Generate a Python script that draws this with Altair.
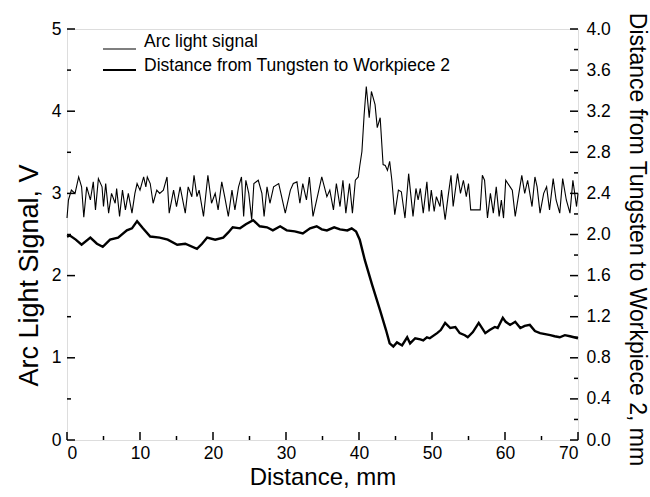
import altair as alt
import pandas as pd

# ---- data ----
arc_x = [0.0, 0.2, 0.6, 1.1, 1.6, 2.0, 2.3, 2.7, 3.2, 3.6,
         3.9, 4.3, 4.8, 5.0, 5.3, 5.7, 6.1, 6.6, 6.8, 7.2,
         7.6, 8.0, 8.4, 8.9, 9.3, 9.6, 10.0, 10.5, 10.8, 11.0,
         11.4, 11.8, 12.3, 12.7, 13.2, 13.7, 14.0, 14.6, 15.0, 15.5,
         16.2, 16.6, 17.1, 17.4, 17.8, 18.1, 18.7, 19.3, 19.8, 20.3,
         20.7, 21.2, 21.6, 22.1, 22.6, 23.0, 23.5, 23.9, 24.2, 24.5,
         24.9, 25.3, 25.6, 26.2, 26.7, 27.0, 27.4, 27.8, 28.3, 29.0,
         29.4, 29.9, 30.6, 31.0, 31.5, 31.9, 32.3, 32.8, 33.2, 33.7,
         34.4, 34.9, 35.6, 36.0, 36.5, 36.9, 37.4, 37.8, 38.2, 38.7,
         39.1, 39.5, 39.9, 40.1, 40.4, 40.7, 41.0, 41.4, 41.7, 42.2,
         42.5, 42.9, 43.3, 43.6, 43.9, 44.2, 44.5, 44.9, 45.4, 45.8,
         46.3, 46.8, 47.4, 47.8, 48.1, 48.4, 48.8, 49.3, 49.6, 49.9,
         50.3, 50.6, 51.1, 51.3, 51.8, 52.2, 52.6, 52.9, 53.5, 53.9,
         54.3, 54.7, 55.0, 55.3, 55.9, 56.6, 56.9, 57.2, 57.6, 58.0,
         58.4, 58.8, 59.2, 59.5, 59.8, 60.1, 60.7, 61.0, 61.4, 61.9,
         62.3, 62.7, 63.1, 63.7, 64.1, 64.4, 64.8, 65.3, 65.7, 66.1,
         66.6, 67.0, 67.5, 67.9, 68.4, 68.9, 69.3, 69.8, 70.0]
arc_v = [2.70, 2.92, 3.04, 3.00, 3.20, 3.08, 2.71, 3.08, 2.92, 3.14,
         2.80, 3.18, 3.08, 2.84, 3.12, 2.76, 3.00, 2.88, 3.06, 2.72,
         3.04, 2.80, 3.00, 2.76, 3.00, 3.12, 3.04, 3.20, 3.08, 3.20,
         3.12, 2.88, 3.04, 3.00, 3.04, 3.20, 2.76, 3.04, 2.84, 3.08,
         2.76, 3.08, 2.96, 3.22, 2.96, 3.04, 2.72, 3.22, 2.88, 3.00,
         2.80, 3.14, 2.96, 2.72, 3.04, 2.80, 3.08, 3.20, 2.72, 3.16,
         3.00, 2.68, 3.12, 3.16, 3.00, 2.72, 3.08, 2.88, 3.08, 3.12,
         2.96, 2.76, 3.04, 3.12, 3.14, 2.88, 3.12, 2.92, 3.20, 2.72,
         3.00, 3.20, 2.96, 3.04, 2.80, 3.12, 2.84, 3.16, 2.76, 3.12,
         2.76, 3.16, 3.20, 3.33, 3.51, 3.95, 4.30, 3.92, 4.24, 4.08,
         3.80, 3.92, 3.35, 3.34, 3.28, 3.39, 3.16, 2.74, 3.04, 3.02,
         2.70, 3.24, 2.72, 3.06, 2.92, 3.06, 2.76, 3.14, 2.78, 3.04,
         2.78, 2.96, 2.84, 3.04, 2.68, 2.96, 3.22, 2.84, 3.24, 3.00,
         3.16, 2.96, 3.12, 2.80, 2.80, 2.80, 3.22, 3.16, 2.70, 3.00,
         2.76, 3.08, 2.72, 2.92, 2.70, 3.16, 3.08, 3.04, 2.72, 3.00,
         3.22, 3.00, 3.16, 2.84, 3.20, 3.08, 2.76, 3.00, 3.08, 2.80,
         3.18, 2.92, 2.76, 3.18, 2.92, 2.76, 3.16, 2.84, 3.00]

dist_x = [0.0, 0.4, 1.2, 2.0, 3.2, 4.1, 4.9, 5.9, 7.0, 8.2,
          8.9, 9.6, 10.4, 11.4, 12.7, 13.8, 15.1, 16.2, 17.8, 18.5,
          19.2, 20.3, 21.4, 22.1, 22.7, 23.7, 24.5, 25.5, 26.4, 27.4,
          28.2, 29.2, 30.1, 31.2, 32.3, 33.3, 34.2, 34.9, 35.6, 36.6,
          37.4, 38.4, 39.0, 39.6, 40.1, 40.8, 41.8, 42.9, 43.7, 44.2,
          44.7, 45.2, 45.9, 46.6, 47.0, 47.7, 48.4, 48.8, 49.3, 49.7,
          50.7, 51.2, 51.8, 52.5, 53.2, 53.8, 54.5, 54.9, 55.6, 56.4,
          57.3, 57.9, 58.6, 59.0, 59.7, 60.1, 60.7, 61.4, 62.1, 62.7,
          63.4, 64.1, 64.8, 65.5, 66.2, 66.8, 67.5, 68.2, 68.9, 70.0]
dist_mm = [1.98, 1.99, 1.95, 1.90, 1.97, 1.91, 1.88, 1.95, 1.97, 2.04,
           2.06, 2.13, 2.06, 1.98, 1.97, 1.95, 1.90, 1.91, 1.86, 1.91,
           1.97, 1.95, 1.97, 2.02, 2.07, 2.06, 2.10, 2.14, 2.08, 2.07,
           2.04, 2.08, 2.04, 2.03, 2.01, 2.06, 2.08, 2.05, 2.04, 2.07,
           2.05, 2.04, 2.06, 2.03, 1.95, 1.75, 1.51, 1.26, 1.07, 0.94,
           0.91, 0.95, 0.92, 1.00, 0.94, 0.99, 0.98, 0.97, 1.00, 0.99,
           1.04, 1.07, 1.14, 1.09, 1.10, 1.04, 1.02, 1.00, 1.05, 1.14,
           1.04, 1.07, 1.10, 1.09, 1.19, 1.15, 1.12, 1.15, 1.09, 1.11,
           1.12, 1.06, 1.04, 1.03, 1.02, 1.01, 1.00, 1.02, 1.01, 0.99]

x_major = [0, 10, 20, 30, 40, 50, 60, 70]
x_minor = [5, 15, 25, 35, 45, 55, 65]
left_major = [0, 1, 2, 3, 4, 5]
left_minor = [0.5, 1.5, 2.5, 3.5, 4.5]
right_major = [0.0, 0.4, 0.8, 1.2, 1.6, 2.0, 2.4, 2.8, 3.2, 3.6, 4.0]
right_minor = [0.2, 0.6, 1.0, 1.4, 1.8, 2.2, 2.6, 3.0, 3.4, 3.8]
legend_labels = ["Arc light signal", "Distance from Tungsten to Workpiece 2"]

# ---- layout ----
W, H = 511, 411
FONT = "Liberation Sans"
MAJ, MIN = 8, 4
LBL = 17.5

xs = alt.Scale(domain=[0, 70], nice=False, zero=False)
ysl = alt.Scale(domain=[0, 5], nice=False)
ysr = alt.Scale(domain=[0, 4], nice=False)

x_axis = alt.Axis(values=x_major, format="d", title="Distance, mm",
                  ticks=False, domain=False, grid=False,
                  labelFontSize=LBL, labelPadding=4, labelColor="black",
                  titleFontSize=24, titleFontWeight="normal",
                  titleX=W / 2, titleY=44, titleBaseline="alphabetic",
                  titleAlign="center", titleColor="black")

arc = alt.Chart(pd.DataFrame({"x": arc_x, "v": arc_v})).mark_line(
    color="black", strokeWidth=1.1).encode(
    x=alt.X("x:Q", scale=xs, axis=x_axis),
    y=alt.Y("v:Q", scale=ysl, axis=alt.Axis(
        orient="left", values=left_major, format="d",
        title="Arc Light Signal, V", ticks=False, domain=False, grid=False,
        labelFontSize=LBL, labelPadding=6, labelColor="black",
        titleFontSize=27, titleFontWeight="normal",
        titleAngle=270, titleX=-24, titleY=246, titleBaseline="bottom",
        titleAlign="center", titleColor="black")),
)

dist = alt.Chart(pd.DataFrame({"x": dist_x, "d": dist_mm})).mark_line(
    color="black", strokeWidth=2.4).encode(
    x=alt.X("x:Q", scale=xs, axis=x_axis),
    y=alt.Y("d:Q", scale=ysr, axis=alt.Axis(
        orient="right", values=right_major, format=".1f",
        title="Distance from Tungsten to Workpiece 2, mm", ticks=False,
        domain=False, grid=False, labelFontSize=LBL, labelPadding=8,
        labelColor="black", titleFontSize=23, titleFontWeight="normal",
        titleAngle=90, titleX=46, titleY=210, titleBaseline="bottom",
        titleAlign="center", titleColor="black")),
)

def vticks(vals, scale, x0, x1):
    return alt.Chart(pd.DataFrame({"t": vals})).mark_rule(
        color="black", strokeWidth=1.5).encode(
        y=alt.Y("t:Q", scale=scale, axis=None),
        x=alt.value(x0), x2=alt.value(x1))

def hticks(vals, size):
    return alt.Chart(pd.DataFrame({"x": vals})).mark_rule(
        color="black", strokeWidth=1.5).encode(
        x=alt.X("x:Q", scale=xs, axis=x_axis),
        y=alt.value(H), y2=alt.value(H - size))

tl_maj = vticks(left_major, ysl, 0, MAJ)
tl_min = vticks(left_minor, ysl, 0, MIN)
tr_maj = vticks(right_major, ysr, W, W - MAJ)
tr_min = vticks(right_minor, ysr, W, W - MIN)
tb_maj = hticks(x_major, MAJ)
tb_min = hticks(x_minor, MIN)

leg1_line = alt.Chart(pd.DataFrame({"l": [legend_labels[0]]})).mark_rule(
    color="black", strokeWidth=1.1).encode(
    x=alt.value(36), x2=alt.value(69), y=alt.value(20))
leg2_line = alt.Chart(pd.DataFrame({"l": [legend_labels[1]]})).mark_rule(
    color="black", strokeWidth=2.2).encode(
    x=alt.value(36), x2=alt.value(69), y=alt.value(41))
leg1_text = alt.Chart(pd.DataFrame({"l": [legend_labels[0]]})).mark_text(
    align="left", baseline="middle", fontSize=17.5, font=FONT, color="black").encode(
    x=alt.value(77), y=alt.value(13), text="l:N")
leg2_text = alt.Chart(pd.DataFrame({"l": [legend_labels[1]]})).mark_text(
    align="left", baseline="middle", fontSize=17.5, font=FONT, color="black").encode(
    x=alt.value(77), y=alt.value(37), text="l:N")

chart = alt.layer(
    arc, dist, tl_maj, tl_min, tr_maj, tr_min, tb_maj, tb_min,
    leg1_line, leg2_line, leg1_text, leg2_text
).resolve_scale(y="independent").properties(
    width=W, height=H,
    autosize=alt.AutoSizeParams(type="none"),
    padding={"left": 67, "top": 29, "right": 72, "bottom": 57},
).configure_view(
    stroke="black", strokeWidth=2
).configure_axis(
    labelFont=FONT, titleFont=FONT
).configure(background="white")

chart.save("out.html", embed_options={"renderer": "svg", "actions": False})
